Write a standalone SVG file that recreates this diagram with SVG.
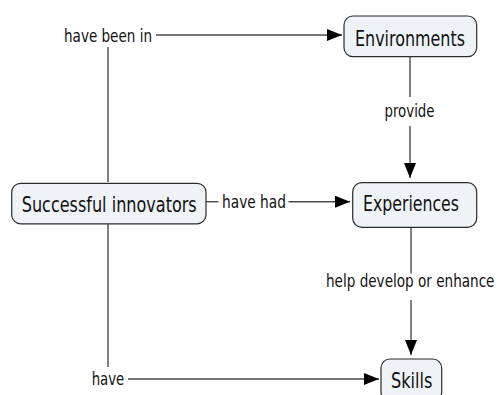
<svg xmlns="http://www.w3.org/2000/svg" width="497" height="395" viewBox="0 0 497 395">
  <defs>
    <style>
      .concept rect { fill: #edf3f6; stroke: #2b2b2b; stroke-width: 1.2; }
      .concept text { font-family: "DejaVu Sans Condensed", "DejaVu Sans", sans-serif; font-size: 21px; fill: #111; }
      .label text { font-family: "DejaVu Sans Condensed", "DejaVu Sans", sans-serif; font-size: 17px; fill: #111; }
      .links path { fill: none; stroke: #4a4a4a; stroke-width: 1.4; }
    </style>
    <marker id="arrow" markerUnits="userSpaceOnUse" markerWidth="15" markerHeight="12" refX="15" refY="6" orient="auto">
      <path d="M0,0 L15,6 L0,12 Z" fill="#000"/>
    </marker>
  </defs>
  <rect width="497" height="395" fill="#fff"/>

  <!-- connectors -->
  <g id="connectors" class="links">
    <path d="M108,182 V47"/>
    <path d="M156,35 H342" marker-end="url(#arrow)"/>
    <path d="M410,57 V97"/>
    <path d="M410,126 V178" marker-end="url(#arrow)"/>
    <path d="M206,201.7 H218.5"/>
    <path d="M288.5,201.7 H350" marker-end="url(#arrow)"/>
    <path d="M411,228 V273.5"/>
    <path d="M411,300 V355" marker-end="url(#arrow)"/>
    <path d="M108,224 V367"/>
    <path d="M128,379 H379" marker-end="url(#arrow)"/>
  </g>

  <!-- linking phrases -->
  <g id="label-have-been-in" class="label">
    <text x="64" y="41.5" textLength="88" lengthAdjust="spacingAndGlyphs">have been in</text>
  </g>
  <g id="label-provide" class="label">
    <text x="384.5" y="117" textLength="50" lengthAdjust="spacingAndGlyphs">provide</text>
  </g>
  <g id="label-have-had" class="label">
    <text x="222" y="207.7" textLength="64" lengthAdjust="spacingAndGlyphs">have had</text>
  </g>
  <g id="label-help-develop" class="label">
    <!-- narrowed horizontally so the phrase fits beside the right edge -->
    <text transform="translate(326,287.3) scale(0.8,1)" textLength="210.6" lengthAdjust="spacingAndGlyphs">help develop or enhance</text>
  </g>
  <g id="label-have" class="label">
    <text x="91.7" y="385" textLength="32.6" lengthAdjust="spacingAndGlyphs">have</text>
  </g>

  <!-- concepts -->
  <g id="environments" class="concept">
    <rect x="344" y="16" width="132.7" height="40.7" rx="9"/>
    <text x="355" y="46" textLength="110" lengthAdjust="spacingAndGlyphs">Environments</text>
  </g>
  <g id="successful-innovators" class="concept">
    <rect x="11.7" y="183.3" width="194.3" height="40.5" rx="9"/>
    <text x="21.7" y="212.3" textLength="175" lengthAdjust="spacingAndGlyphs">Successful innovators</text>
  </g>
  <g id="experiences" class="concept">
    <rect x="352.7" y="182.7" width="124" height="44.6" rx="9"/>
    <text x="363" y="210.5" textLength="96" lengthAdjust="spacingAndGlyphs">Experiences</text>
  </g>
  <g id="skills" class="concept">
    <rect x="381" y="359" width="60.7" height="42" rx="9"/>
    <text x="391" y="387.5" textLength="41.5" lengthAdjust="spacingAndGlyphs">Skills</text>
  </g>
</svg>
